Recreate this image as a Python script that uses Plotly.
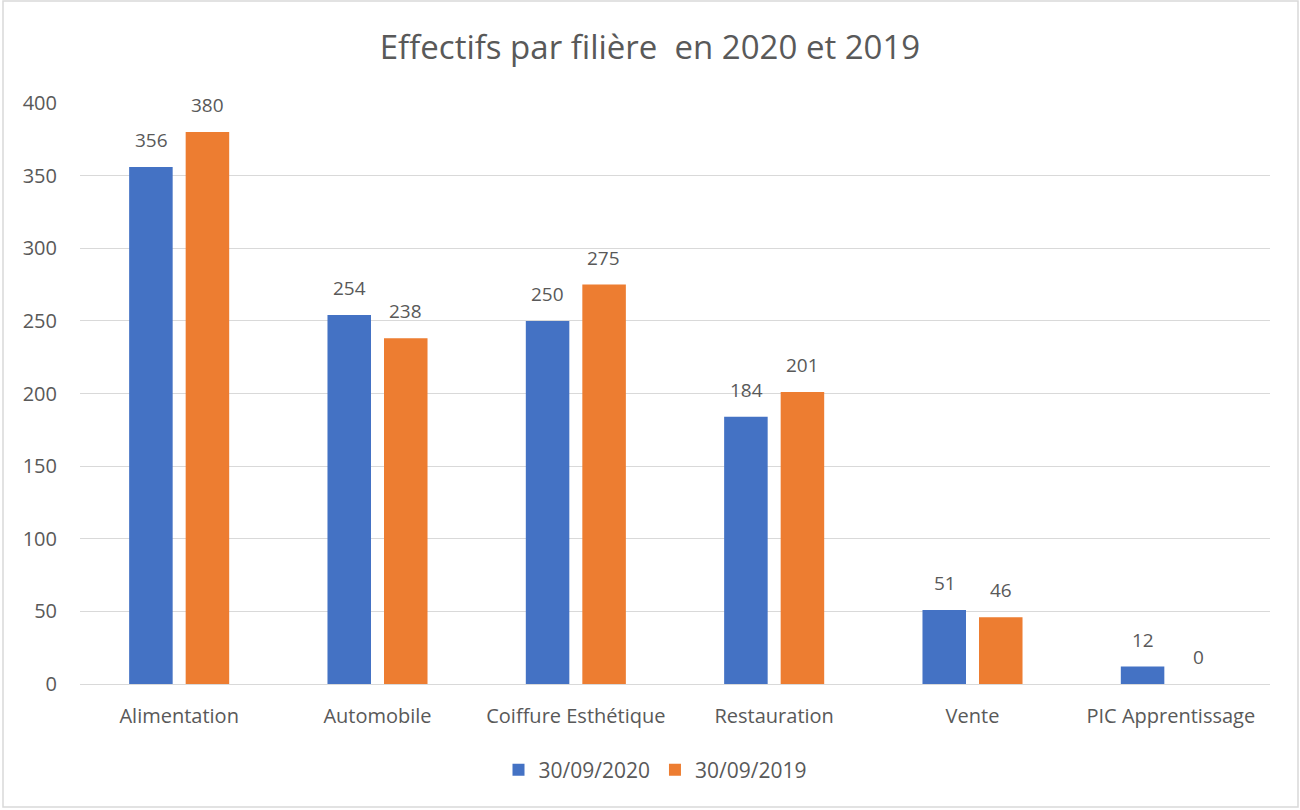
import plotly.graph_objects as go

categories = ["Alimentation", "Automobile", "Coiffure Esthétique", "Restauration", "Vente", "PIC Apprentissage"]
values_2020 = [356, 254, 250, 184, 51, 12]
values_2019 = [380, 238, 275, 201, 46, 0]
series_names = ["30/09/2020", "30/09/2019"]
y_ticks = [0, 50, 100, 150, 200, 250, 300, 350, 400]

FONT = "Open Sans, Calibri, sans-serif"
GRAY = "#595959"
COLORS = ["#4472C4", "#ED7D31"]

fig = go.Figure()
for name, vals, col in zip(series_names, [values_2020, values_2019], COLORS):
    fig.add_trace(go.Bar(
        x=categories, y=vals, name=name,
        marker=dict(color=col, line=dict(width=0)),
        textposition="none",
    ))

# data labels above each bar
for vals, shift in zip([values_2020, values_2019], [-28, 28]):
    for c, v in zip(categories, vals):
        fig.add_annotation(x=c, y=v, xref="x", yref="y", text=str(v), showarrow=False,
                           xshift=shift, yshift=27, xanchor="center", yanchor="middle",
                           font=dict(size=19, color=GRAY, family=FONT))

fig.update_layout(
    width=1300, height=810,
    margin=dict(l=80, r=30, t=103, b=126),
    paper_bgcolor="white", plot_bgcolor="white",
    barmode="group", bargap=0.43, bargroupgap=0.23,
    title=dict(text="Effectifs par filière&nbsp;&nbsp;en 2020 et 2019", x=0.5, xanchor="center",
               y=1 - 47 / 810, yanchor="middle",
               font=dict(size=33, color=GRAY, family=FONT)),
    font=dict(family=FONT, color=GRAY, size=19),
    legend=dict(orientation="h", x=0.5 - 20 / 1190, xanchor="center", y=-(770 - 684) / 581,
                yanchor="middle",
                font=dict(size=21, color=GRAY, family=FONT), itemwidth=30,
                traceorder="normal"),
)
fig.update_xaxes(showline=True, linecolor="#D9D9D9", linewidth=1, ticks="",
                 ticklabelstandoff=14,
                 tickfont=dict(size=20, color=GRAY, family=FONT), showgrid=False)
fig.update_yaxes(range=[0, 400], tickvals=y_ticks, showgrid=True, gridcolor="#D9D9D9",
                 gridwidth=1, zeroline=False, showline=False, ticks="", ticklen=0,
                 ticklabelstandoff=22,
                 tickfont=dict(size=20, color=GRAY, family=FONT))

# chart border
fig.add_shape(type="rect", xref="paper", yref="paper",
              x0=(3 - 80) / 1190, x1=(1298 - 80) / 1190,
              y0=(684 - 807) / 581, y1=(684 - 1) / 581,
              line=dict(color="#D9D9D9", width=1.5), fillcolor="rgba(0,0,0,0)", layer="below")

fig.write_html("out.html", config={"displayModeBar": False},
               post_script="document.body.style.margin='0';")
